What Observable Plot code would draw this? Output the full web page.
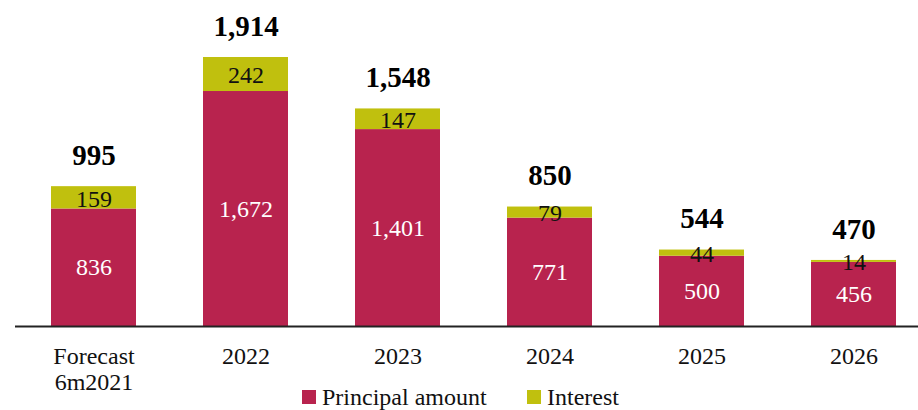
<!DOCTYPE html>
<html>
<head>
<meta charset="utf-8">
<script src="https://cdn.jsdelivr.net/npm/d3@7"></script>
<script src="https://cdn.jsdelivr.net/npm/@observablehq/plot@0.6"></script>
<style>
  html, body { margin: 0; padding: 0; background: #fff; overflow: hidden; }
  #chart svg { display: block; }
  .legend { height: 26px; line-height: 26px; position: relative; font-family: "Liberation Serif", "DejaVu Serif", serif; font-size: 24px; color: #111; }
  .legend span.item { position: absolute; top: 0; display: flex; align-items: center; gap: 6px; height: 26px; line-height: 26px; }
  .legend span.sw { width: 14px; height: 14px; display: inline-block; }
</style>
</head>
<body>
<div id="chart"></div>
<script>
const categories = ["Forecast\n6m2021", "2022", "2023", "2024", "2025", "2026"];
const principal = [836, 1672, 1401, 771, 500, 456];
const interest = [159, 242, 147, 79, 44, 14];
const totals = [995, 1914, 1548, 850, 544, 470];
const seriesNames = ["Principal amount", "Interest"];
const seriesColors = ["#B8234E", "#C0C00E"];

const rows = categories.map((c, i) => ({
  cat: c, p: principal[i], int: interest[i], total: totals[i]
}));
const fmt = d3.format(",");
const font = "'Liberation Serif', 'DejaVu Serif', serif";

const chart = Plot.plot({
  width: 918,
  height: 384,
  marginLeft: 15,
  marginRight: 0,
  marginTop: 0,
  marginBottom: 0,
  style: { fontFamily: font, background: "#fff", overflow: "visible" },
  x: { domain: categories, range: [49, 897], paddingInner: 0.443, paddingOuter: 0, axis: null },
  y: { domain: [0, 1914], range: [326, 57], axis: null },
  marks: [
    Plot.barY(rows, { x: "cat", y1: 0, y2: "p", fill: seriesColors[0] }),
    Plot.barY(rows, { x: "cat", y1: "p", y2: "total", fill: seriesColors[1] }),
    Plot.text(rows, { x: "cat", y: d => d.p / 2, text: d => fmt(d.p), fill: "#fff", fontSize: 24 }),
    Plot.text(rows, { x: "cat", y: d => d.p + d.int / 2, text: d => fmt(d.int), fill: "#111", fontSize: 24, dy: 1 }),
    Plot.text(rows, { x: "cat", y: "total", text: d => fmt(d.total), fill: "#000", fontSize: 29, fontWeight: "bold", dy: -31 }),
    Plot.ruleY([0], { stroke: "#222", strokeWidth: 2 }),
    Plot.text(rows, { x: "cat", y: 0, text: "cat", fill: "#111", fontSize: 24, lineAnchor: "top", lineHeight: 1.08, dy: 19 })
  ]
});
document.getElementById("chart").appendChild(chart);

const legend = document.createElement("div");
legend.className = "legend";
const legendX = [302, 527];
seriesNames.forEach((n, i) => {
  const item = document.createElement("span");
  item.className = "item";
  item.style.left = legendX[i] + "px";
  const sw = document.createElement("span");
  sw.className = "sw";
  sw.style.background = seriesColors[i];
  const t = document.createElement("span");
  t.textContent = n;
  item.appendChild(sw);
  item.appendChild(t);
  legend.appendChild(item);
});
document.body.appendChild(legend);
</script>
</body>
</html>
